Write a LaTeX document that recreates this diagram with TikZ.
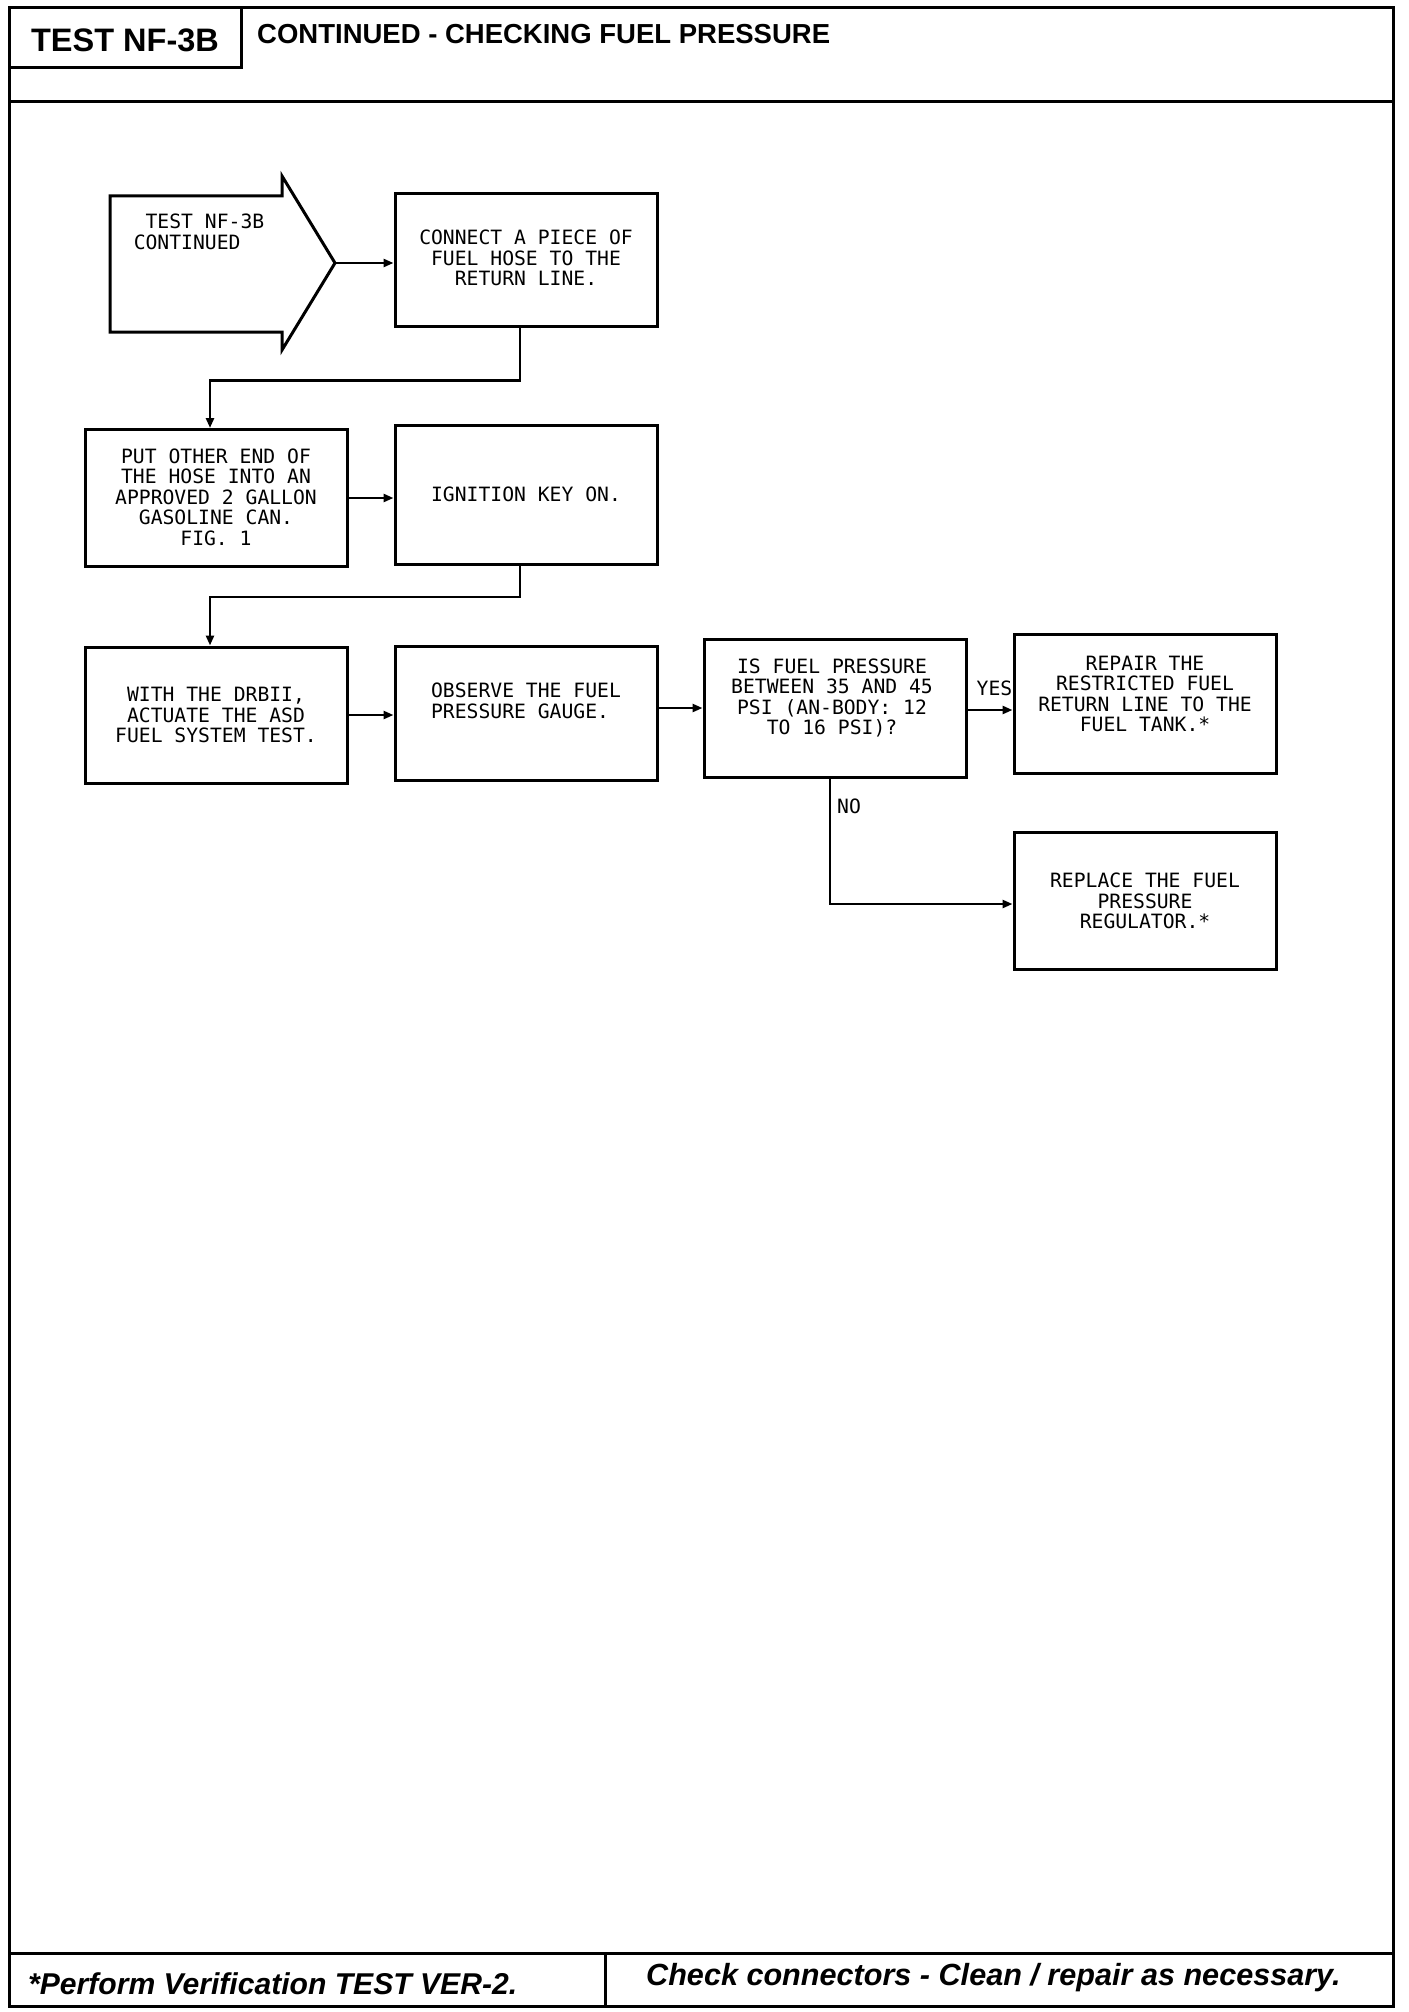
\documentclass[tikz,border=0pt]{standalone}
\usepackage{fontspec}
\setmainfont{Liberation Sans}
\newfontfamily\plotfont{DejaVu Sans Mono}
\usetikzlibrary{arrows.meta}
\begin{document}
\begin{tikzpicture}[x=1pt,y=-1pt,
  frameline/.style={line width=3pt},
  stepbox/.style={draw, line width=3pt, minimum width=262pt, inner sep=0pt},
  boxtext/.style={font=\plotfont\fontsize{19.7}{20.5}\selectfont, align=center, inner sep=0pt},
  lbl/.style={font=\plotfont\fontsize{19.7}{20.5}\selectfont, inner sep=0pt},
  conn/.style={line width=2.5pt, -{Triangle[length=10pt,width=8pt]}},
  headbig/.style={font=\fontsize{32.5}{33}\selectfont\bfseries, inner sep=0pt},
  headtxt/.style={font=\fontsize{27.5}{28}\selectfont\bfseries, inner sep=0pt, anchor=west},
  foottxt/.style={font=\bfseries\itshape, inner sep=0pt, anchor=west}
]
\useasboundingbox (0,0) rectangle (1408,2012);
% frame
\draw[frameline] (9,8) rectangle (1393,2006);
\draw[frameline] (9,68) -- (241,68) -- (241,8);
\draw[frameline] (9,102) -- (1393,102);
\draw[frameline] (9,1953) -- (1393,1953);
\draw[frameline] (605,1953) -- (605,2006);
\node[headbig] (title) at (125,40) {TEST NF-3B};
\node[headtxt] (subtitle) at (257,34) {CONTINUED - CHECKING FUEL PRESSURE};
\node[foottxt, font=\fontsize{30.1}{31}\selectfont\bfseries\itshape] (footl) at (28,1984) {*Perform Verification TEST VER-2.};
\node[foottxt, font=\fontsize{30.6}{31}\selectfont\bfseries\itshape] (footr) at (646,1978) {Check connectors - Clean / repair as necessary.};

% start arrow
\draw[line width=3pt, line join=miter] (110,196) -- (282,196) -- (282,176) -- (335,263) -- (282,350) -- (282,332) -- (110,332) -- cycle;
\coordinate (tip) at (335,263);
\node[boxtext, align=left] (starttxt) at (199,232) {\ TEST NF-3B\\CONTINUED};

% boxes
\node[stepbox, minimum height=132pt] (b1) at (526,260) {};
\node[boxtext] (b1t) at (526,258) {CONNECT A PIECE OF\\FUEL HOSE TO THE\\RETURN LINE.};
\node[stepbox, minimum height=137pt] (b2) at (216,498) {};
\node[boxtext] (b2t) at (216,497) {PUT OTHER END OF\\THE HOSE INTO AN\\APPROVED 2 GALLON\\GASOLINE CAN.\\FIG. 1};
\node[stepbox, minimum height=139pt] (b3) at (526,495) {};
\node[boxtext] (b3t) at (526,494) {IGNITION KEY ON.};
\node[stepbox, minimum height=136pt] (b4) at (216,715) {};
\node[boxtext] (b4t) at (216,715) {WITH THE DRBII,\\ACTUATE THE ASD\\FUEL SYSTEM TEST.};
\node[stepbox, minimum height=134pt] (b5) at (526,713) {};
\node[boxtext, align=left] (b5t) at (526,701) {OBSERVE THE FUEL\\PRESSURE GAUGE.};
\node[stepbox, minimum height=138pt] (b6) at (835,708) {};
\node[boxtext] (b6t) at (832,698) {IS FUEL PRESSURE\\BETWEEN 35 AND 45\\PSI (AN-BODY: 12\\TO 16 PSI)?};
\node[stepbox, minimum height=139pt] (b7) at (1145,704) {};
\node[boxtext] (b7t) at (1145,694) {REPAIR THE\\RESTRICTED FUEL\\RETURN LINE TO THE\\FUEL TANK.*};
\node[stepbox, minimum height=137pt] (b8) at (1145,901) {};
\node[boxtext] (b8t) at (1145,901) {REPLACE THE FUEL\\PRESSURE\\REGULATOR.*};

% connectors
\draw[conn] (tip) -- (tip -| b1.west);
\draw[conn] ([xshift=-6pt]b1.south) -- ++(0,53) -| ([xshift=-6pt]b2.north);
\draw[conn] (b2.east) -- (b2.east -| b3.west);
\draw[conn] ([xshift=-6pt]b3.south) -- ++(0,31) -| ([xshift=-6pt]b4.north);
\draw[conn] (b4.east) -- (b4.east -| b5.west);
\draw[conn] (b6.west -| b5.east) -- (b6.west);
\draw[conn] ([yshift=-2pt]b6.east) -- ([yshift=-2pt]b6.east -| b7.west);
\draw[conn] ([xshift=-5pt]b6.south) |- ([yshift=-3pt]b8.west);
\node[lbl, anchor=south east] (yes) at ([xshift=0pt,yshift=8pt]b7.west) {YES};
\node[lbl, anchor=north west] (no) at ([xshift=2pt,yshift=-20pt]b6.south) {NO};
\end{tikzpicture}
\end{document}
